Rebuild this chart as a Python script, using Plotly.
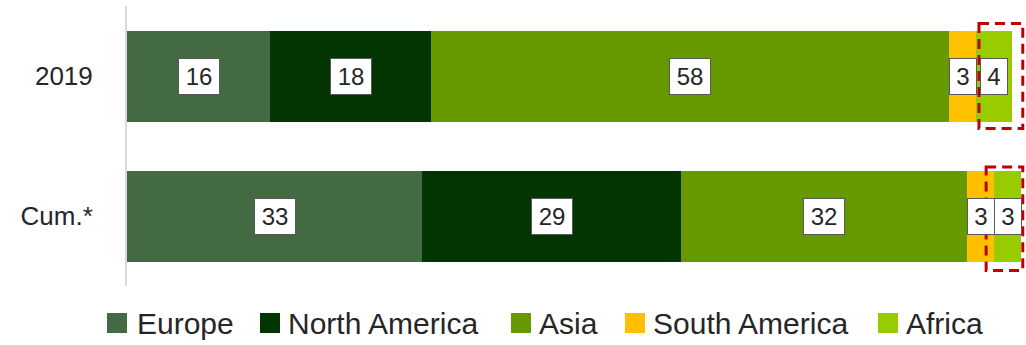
import plotly.graph_objects as go

# Share of installations by region (%)
categories = ["2019", "Cum.*"]
regions = ["Europe", "North America", "Asia", "South America", "Africa"]
share_2019 = [16, 18, 58, 3, 4]
share_cum = [33, 29, 32, 3, 3]
colors = ["#436A43", "#023502", "#669900", "#FFC000", "#99CC00"]

values_by_region = [list(v) for v in zip(share_2019, share_cum)]

W, H = 1026, 345
ML, MR, MT, MB = 127, 0, 6, 59
plot_w = W - ML - MR
plot_h = H - MT - MB
PX_PER_UNIT = 8.94
x_max = plot_w / PX_PER_UNIT

FONT = "Liberation Sans, Arial, sans-serif"

fig = go.Figure()
for name, vals, col in zip(regions, values_by_region, colors):
    fig.add_trace(go.Bar(
        y=categories, x=vals, name=name, orientation="h",
        marker=dict(color=col, line=dict(width=0)),
        width=0.65, showlegend=False, hoverinfo="x+name",
    ))

# Boxed value labels centred in each segment (y given as category index)
annotations = []
for ci, cat in enumerate(categories):
    start = 0
    for ri in range(len(regions)):
        v = values_by_region[ri][ci]
        txt = str(v)
        annotations.append(dict(
            x=start + v / 2, y=ci, xref="x", yref="y", text=txt,
            showarrow=False, font=dict(family=FONT, size=24, color="#262626"),
            bgcolor="white", bordercolor="#595959", borderwidth=1, borderpad=4,
            width=14 * len(txt) + 4, height=27,
        ))
        start += v

# Dashed highlight around the Africa segment of each bar
shapes = []
highlight_offset = [0.3, -0.9]
highlight_pad = [(0.375, 0.375), (0.35, 0.39)]
for ci, cat in enumerate(categories):
    africa_start = sum(values_by_region[ri][ci] for ri in range(4))
    top_pad, bot_pad = highlight_pad[ci]
    shapes.append(dict(
        type="rect", xref="x", yref="y",
        x0=africa_start + highlight_offset[ci], x1=100.2,
        y0=ci - top_pad, y1=ci + bot_pad,
        line=dict(color="#C00000", width=3, dash="10px,6px"),
        fillcolor="rgba(0,0,0,0)", layer="above",
    ))

# Legend drawn below the plot
def px_x(px):
    return (px - ML) / plot_w

def px_y(py):
    return (H - MB - py) / plot_h

swatch_left = [107, 260, 511, 625, 878]
text_left = [137, 288, 539, 653, 906]
for name, col, sx, tx in zip(regions, colors, swatch_left, text_left):
    shapes.append(dict(
        type="rect", xref="paper", yref="paper",
        x0=px_x(sx), x1=px_x(sx + 20), y0=px_y(333), y1=px_y(313),
        fillcolor=col, line=dict(width=0),
    ))
    annotations.append(dict(
        x=px_x(tx - 2), y=px_y(323), xref="paper", yref="paper",
        text=name, showarrow=False, xanchor="left", yanchor="middle",
        font=dict(family=FONT, size=30, color="#262626"),
    ))

fig.update_layout(
    width=W, height=H, barmode="stack",
    margin=dict(l=ML, r=MR, t=MT, b=MB, pad=0),
    plot_bgcolor="white", paper_bgcolor="white",
    font=dict(family=FONT, color="#262626"),
    bargap=0.35,
    xaxis=dict(range=[0, x_max], visible=False, fixedrange=True),
    yaxis=dict(
        autorange=False, range=[1.5, -0.5], type="category",
        showline=True, linecolor="#D9D9D9", linewidth=2,
        showgrid=False, zeroline=False, ticks="",
        ticklabelstandoff=27,
        tickfont=dict(family=FONT, size=26, color="#262626"),
    ),
    annotations=annotations, shapes=shapes,
)

fig.write_html("out.html")
